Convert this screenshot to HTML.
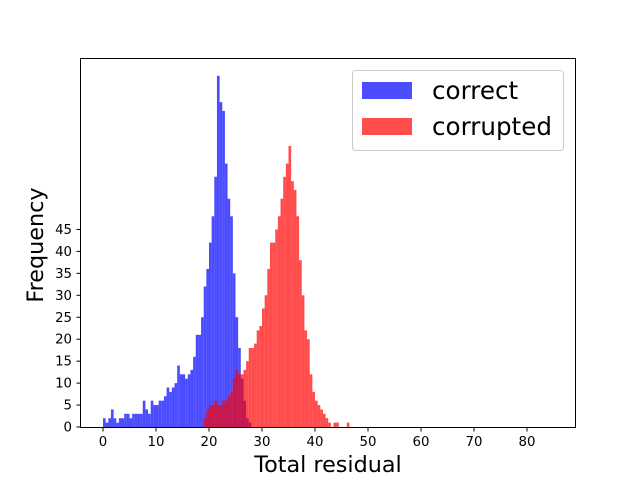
<!DOCTYPE html>
<html><head><meta charset="utf-8"><style>
body{margin:0;background:#fff;}
svg{display:block;font-family:"DejaVu Sans","Liberation Sans",sans-serif;}
</style></head><body>
<svg id="chart" width="640" height="480">
<rect x="0" y="0" width="640" height="480" fill="#fff"/>
<g id="bars"></g>
<rect x="80.5" y="58.5" width="495" height="369" fill="none" stroke="#000" stroke-width="1"/>
<g id="axes"></g>
<text x="328" y="472" font-size="22.3" text-anchor="middle">Total residual</text>
<text transform="translate(43,245) rotate(-90)" font-size="22.3" text-anchor="middle">Frequency</text>
<g>
<rect x="352.5" y="70.5" width="211" height="80" rx="3" fill="#fff" fill-opacity="0.8" stroke="#ccc"/>
<rect x="362" y="82" width="50" height="17" fill="#0000ff" fill-opacity="0.7"/>
<text x="432" y="99" font-size="24.6">correct</text>
<rect x="362" y="118" width="50" height="17" fill="#ff0000" fill-opacity="0.7"/>
<text x="432" y="135" font-size="24.6">corrupted</text>
</g>
</svg>
<script>
const binWidth = 0.5;
const correctStart = 0;
const correctCounts = [2,1,2,4,2,1,2,2,3,3,2,3,3,3,3,6,4,3,6,5,5,6,6,7,9,8,9,10,14,12,12,11,12,13,16,21,21,25,32,36,42,48,57,80,74,72,60,52,48,35,25,18,11,6,2,1];
const corruptedStart = 19;
const corruptedCounts = [2,4,5,5,6,5,5,6,6,7,8,11,13,12,12,13,15,18,18,19,22,23,27,30,36,42,42,45,48,52,57,60,64,56,54,48,38,30,22,20,12,8,6,5,4,3,2,1,0,1,1,0,0,0,1];
const xTicks = [0,10,20,30,40,50,60,70,80];
const yTicks = [0,5,10,15,20,25,30,35,40,45];

const NS = "http://www.w3.org/2000/svg";
const xs = v => 103 + v * 5.3;
const ys = v => 427 - v * 4.39;
const bars = document.getElementById('bars');
const axes = document.getElementById('axes');

function drawSeries(start, counts, color, name) {
  counts.forEach((c, i) => {
    if (c <= 0) return;
    const x0 = xs(start + i * binWidth), x1 = xs(start + (i + 1) * binWidth);
    const r = document.createElementNS(NS, 'rect');
    r.setAttribute('x', x0);
    r.setAttribute('y', ys(c));
    r.setAttribute('width', x1 - x0);
    r.setAttribute('height', ys(0) - ys(c));
    r.setAttribute('fill', color);
    r.setAttribute('fill-opacity', '0.7');
    
    
    bars.appendChild(r);
  });
}
drawSeries(correctStart, correctCounts, '#0000ff', 'correct');
drawSeries(corruptedStart, corruptedCounts, '#ff0000', 'corrupted');

xTicks.forEach(t => {
  const x = xs(t);
  const l = document.createElementNS(NS, 'line');
  l.setAttribute('x1', x); l.setAttribute('x2', x);
  l.setAttribute('y1', 427.5); l.setAttribute('y2', 431.5);
  l.setAttribute('stroke', '#000');
  
  
  axes.appendChild(l);
  const tx = document.createElementNS(NS, 'text');
  tx.setAttribute('x', x); tx.setAttribute('y', 446);
  tx.setAttribute('font-size', '13.3'); tx.setAttribute('text-anchor', 'middle');
  tx.textContent = t;
  
  
  axes.appendChild(tx);
});
yTicks.forEach(t => {
  const y = ys(t);
  const l = document.createElementNS(NS, 'line');
  l.setAttribute('x1', 76.5); l.setAttribute('x2', 80.5);
  l.setAttribute('y1', y); l.setAttribute('y2', y);
  l.setAttribute('stroke', '#000');
  
  
  axes.appendChild(l);
  const tx = document.createElementNS(NS, 'text');
  tx.setAttribute('x', 72); tx.setAttribute('y', y + 4.5);
  tx.setAttribute('font-size', '13.3'); tx.setAttribute('text-anchor', 'end');
  tx.textContent = t;
  
  
  axes.appendChild(tx);
});
</script>
</body></html>
